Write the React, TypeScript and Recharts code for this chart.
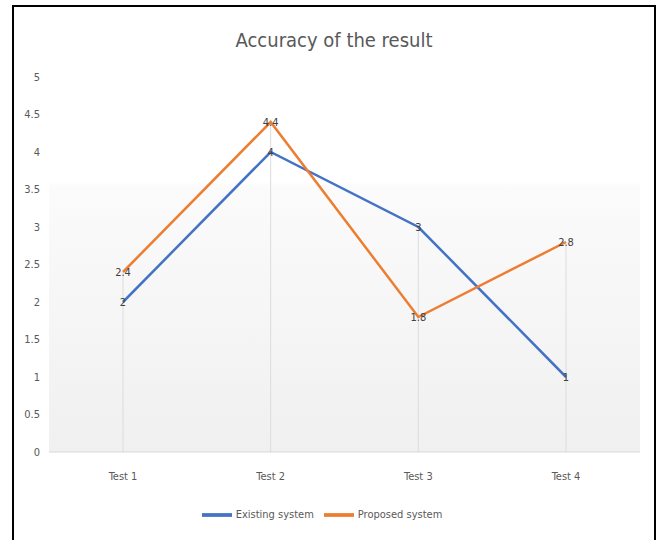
import React from "react";
import { LineChart, Line, XAxis, YAxis, Legend, LabelList, CartesianGrid, ReferenceLine } from "recharts";

const categories = ["Test 1", "Test 2", "Test 3", "Test 4"];
const existingSystem = [2, 4, 3, 1];
const proposedSystem = [2.4, 4.4, 1.8, 2.8];
const yTicks = [0, 0.5, 1, 1.5, 2, 2.5, 3, 3.5, 4, 4.5, 5];

const data = categories.map((c, i) => ({
  name: c,
  existing: existingSystem[i],
  proposed: proposedSystem[i],
}));

const FONT = "'Liberation Sans Narrow', 'DejaVu Sans Condensed', 'Open Sans', sans-serif";

export default function App() {
  return (
    <div
      style={{
        position: "absolute",
        left: 12,
        top: 5,
        width: 640,
        height: 540,
        borderTop: "2px solid #000",
        borderLeft: "2px solid #000",
        borderRight: "2px solid #000",
        background: "#fff",
        fontFamily: FONT,
      }}
    >
      <div
        style={{
          position: "absolute",
          left: 0,
          width: 640,
          top: 21,
          textAlign: "center",
          fontSize: 20,
          color: "#595959",
          fontFamily: FONT,
        }}
      >
        Accuracy of the result
      </div>
      <LineChart
        width={640}
        height={533}
        data={data}
        margin={{ top: 70, right: 14, left: 0, bottom: 28 }}
        style={{ fontFamily: FONT }}
      >
        <defs>
          <linearGradient id="bgGrad" x1="0" y1="0" x2="0" y2="1">
            <stop offset="0%" stopColor="#ffffff" />
            <stop offset="28%" stopColor="#ffffff" />
            <stop offset="29%" stopColor="#fbfbfb" />
            <stop offset="100%" stopColor="#f0f0f0" />
          </linearGradient>
        </defs>
        <CartesianGrid horizontal={false} vertical={false} fill="url(#bgGrad)" fillOpacity={1} />
        {categories.map((c, i) => (
          <ReferenceLine
            key={c}
            segment={[
              { x: c, y: 0 },
              { x: c, y: Math.max(existingSystem[i], proposedSystem[i]) },
            ]}
            stroke="#dcdcdc"
            strokeWidth={1}
          />
        ))}
        <XAxis
          dataKey="name"
          padding={{ left: 74, right: 74 }}
          axisLine={{ stroke: "#d9d9d9" }}
          tickLine={false}
          tickSize={0}
          tickMargin={20}
          height={30}
          tick={{ fill: "#595959", fontSize: 11 }}
        />
        <YAxis
          domain={[0, 5]}
          ticks={yTicks}
          width={35}
          axisLine={false}
          tickLine={false}
          tickSize={0}
          tickMargin={9}
          tick={{ fill: "#595959", fontSize: 11 }}
        />
        <Legend
          verticalAlign="bottom"
          iconType="plainline"
          iconSize={30}
          wrapperStyle={{ fontSize: 11, bottom: 10 }}
          formatter={(v) => <span style={{ color: "#595959" }}>{v}</span>}
        />
        <Line
          name="Existing system"
          dataKey="existing"
          stroke="#4472C4"
          strokeWidth={2.5}
          dot={false}
          isAnimationActive={false}
        >
          <LabelList dataKey="existing" position="center" fill="#404040" fontSize={11} />
        </Line>
        <Line
          name="Proposed system"
          dataKey="proposed"
          stroke="#ED7D31"
          strokeWidth={2.5}
          dot={false}
          isAnimationActive={false}
        >
          <LabelList dataKey="proposed" position="center" fill="#404040" fontSize={11} />
        </Line>
      </LineChart>
    </div>
  );
}
